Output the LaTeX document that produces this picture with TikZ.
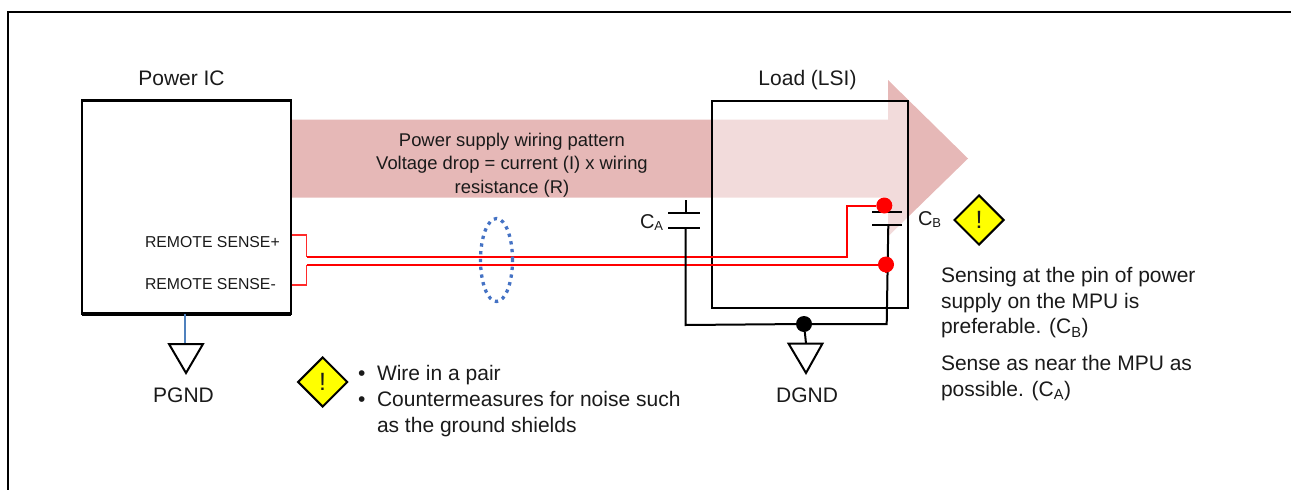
\documentclass[tikz,border=0pt]{standalone}
\usepackage{fontspec}
\setmainfont{Liberation Sans}
\usetikzlibrary{shapes.geometric}
\pgfdeclarelayer{fg}
\pgfsetlayers{main,fg}
\definecolor{arrowpink}{HTML}{E6B8B7}
\definecolor{wirered}{HTML}{FF0000}
\definecolor{stubred}{HTML}{FF2A2A}
\definecolor{shieldblue}{HTML}{4472C4}
\definecolor{gndblue}{HTML}{4F81BD}
\definecolor{warnyellow}{HTML}{FFFF00}
\definecolor{txt}{HTML}{1A1A1A}
\newcommand{\capsub}[1]{\raisebox{-0.12em}{\fontsize{13}{13}\selectfont #1}}
\tikzset{
  x=1pt,y=-1pt,
  lbl/.style={inner sep=0pt,outer sep=0pt,text=txt,font=\fontsize{21}{25.6}\selectfont},
  small/.style={lbl,font=\fontsize{15.8}{18}\selectfont},
  leftlbl/.style={lbl,anchor=north west,align=left},
  chip/.style={draw=black,line width=2.4pt,fill=none,inner sep=0pt,outer sep=0pt,rectangle},
  wire/.style={draw=wirered,line width=2pt},
  thinwire/.style={draw=stubred,line width=1.5pt},
  blackwire/.style={draw=black,line width=2pt},
  plate/.style={draw=black,line width=2pt},
  gndsym/.style={draw=black,line width=2pt,line join=miter},
  reddot/.style={circle,fill=wirered,minimum size=16pt,inner sep=0pt,outer sep=0pt},
  blackdot/.style={circle,fill=black,minimum size=16pt,inner sep=0pt,outer sep=0pt},
  warn/.style={diamond,aspect=1,draw=black,line width=2pt,fill=warnyellow,minimum width=50pt,minimum height=50pt,inner sep=0pt,
    text=txt,font=\fontsize{25}{25}\selectfont},
}
\begin{document}
\begin{tikzpicture}
\useasboundingbox (0,0) rectangle (1291,490);
% frame
\coordinate (fa) at (8,490); \coordinate (fb) at (8,12);
\coordinate (fc) at (1291,12);
\draw[black,line width=2pt] (fa) -- (fb) -- (fc);
% big arrow
\fill[arrowpink] (292,119.5) -- (888,119.5) -- (888,80) -- (968,158.5) -- (888,236.5) -- (888,197.5) -- (292,197.5) -- cycle;
% boxes
\node[chip,anchor=north west,minimum width=196pt,minimum height=207pt,fill=white,fill opacity=.5] (load) at (712,101) {};
\node[chip,anchor=north west,minimum width=209pt,minimum height=214pt] (ic) at (82,100) {};
\draw[black,line width=3pt] (ic.north west) -- (ic.north east);
\draw[black,line width=3.5pt] (ic.south west) -- (ic.south east);
% titles
\node[lbl] (ictitle) at (181.5,78) {Power IC};
\node[lbl] (loadtitle) at (807.5,80) {Load (LSI)};
\node[lbl,align=center,font=\fontsize{18.4}{23.5}\selectfont] (pat) at (512,165) {Power supply wiring pattern\\Voltage drop = current (I) x wiring\\resistance (R)};
\node[small,anchor=base west] (sp) at (145,247) {REMOTE SENSE+};
\node[small,anchor=base west] (sm) at (145,289) {REMOTE SENSE-};
% dots & junctions, on top of the wires
\begin{pgfonlayer}{fg}
\node[reddot] (d1) at (884.3,205.5) {};
\node[reddot] (d2) at (886,264.5) {};
\node[blackdot] (d3) at (804,324) {};
\end{pgfonlayer}
% red wires
\coordinate (p1) at (292,235); \coordinate (p2) at (306.5,235); \coordinate (p3) at (306.5,257);
\coordinate (p4) at (847,257); \coordinate (p5) at (847,205.5);
\coordinate (m1) at (292,285); \coordinate (m2) at (306.5,285); \coordinate (m3) at (306.5,265);
\draw[thinwire] (p1) -- (p2) -- (p3);
\draw[wire] (p3) -- (p4) -- (p5) -- (d1);
\draw[thinwire] (m1) -- (m2) -- (m3);
\draw[wire] (m3) -- (m3 -| d2) -- (d2);
% shield
\node[ellipse,draw=shieldblue,line width=3.3pt,dash pattern=on 3.3pt off 4.5pt,minimum width=32pt,minimum height=83pt,inner sep=0pt] (shield) at (496.5,260) {};
% caps
\coordinate (a0) at (685.5,200); \coordinate (a1) at (685.5,212.7); \coordinate (a2) at (685.5,228.3);
\coordinate (a3) at (685.5,325);
\draw[plate] (668,212.7) -- (700,212.7);
\draw[plate] (668,228.3) -- (700,228.3);
\draw[blackwire] (a0) -- (a1);
\draw[blackwire] (a2) -- (a3) -- (d3);
\draw[plate] (872,211.5) -- (902,211.5);
\draw[plate] (872,225) -- (902,225);
\coordinate (b1) at (888.3,225); \coordinate (b2) at (886.7,324);
\draw[blackwire] (b1) -- (b2) -- (d3);
% grounds
\coordinate (dg) at (806,343.5);
\draw[blackwire] (d3) -- (dg);
\draw[gndsym] (788.5,343.5) -- (822.5,343.5) -- (806,373) -- cycle;
\coordinate (pg) at (185,344);
\draw[gndblue,line width=1.5pt] (ic.south -| pg) -- (pg);
\draw[gndsym] (169,344) -- (203,344) -- (186,373) -- cycle;
\node[lbl] (pgnd) at (183.5,395) {PGND};
\node[lbl] (dgnd) at (807,395) {DGND};
% cap labels
\node[lbl,anchor=base west,font=\fontsize{20}{20}\selectfont] (ca) at (640,228) {C\capsub{A}};
\node[lbl,anchor=base west,font=\fontsize{20}{20}\selectfont] (cb) at (918,225.5) {C\capsub{B}};
% warnings
\node[warn] (w1) at (979,220) {!};
\node[warn] (w2) at (322.7,382) {!};
% notes
\node[leftlbl] (n1) at (941,267.5) {Sensing at the pin of power\\supply on the MPU is\\preferable. (C\textsubscript{B})};
\node[leftlbl] (n2) at (941,355.5) {Sense as near the MPU as\\possible. (C\textsubscript{A})};
\node[lbl,anchor=base west] (b1t) at (358,380.5) {•};
\node[lbl,anchor=base west] (t1) at (377,380.5) {Wire in a pair};
\node[lbl,anchor=base west] (b2t) at (358,406) {•};
\node[leftlbl] (t2) at (377,391.5) {Countermeasures for noise such\\as the ground shields};
\end{tikzpicture}
\end{document}
